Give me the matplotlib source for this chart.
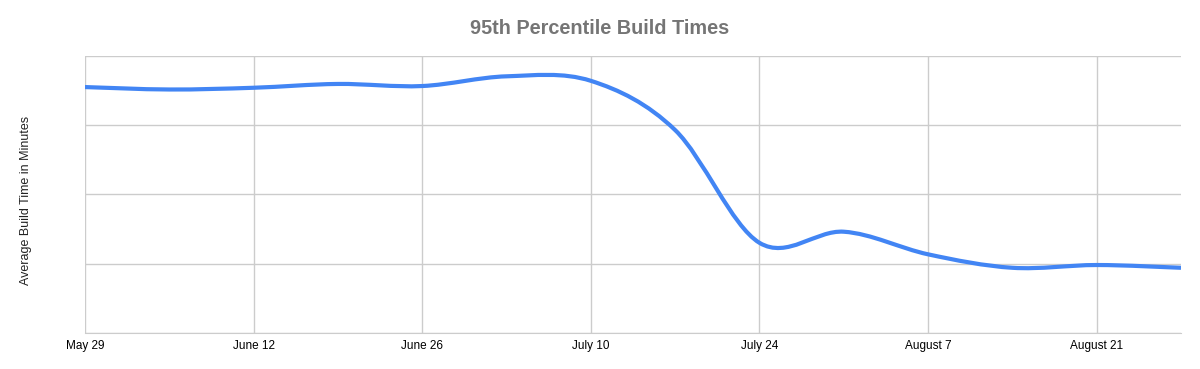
import numpy as np
import matplotlib
matplotlib.use("Agg")
import matplotlib.pyplot as plt
from matplotlib.path import Path
from matplotlib.patches import PathPatch

# weekly samples, days since May 29
days = [0, 7, 14, 21, 28, 35, 42, 49, 56, 63, 70, 77, 84, 91]
build_time = [3.545, 3.51, 3.535, 3.59, 3.56, 3.70, 3.635,
              2.925, 1.30, 1.46, 1.134, 0.94, 0.98, 0.94]

tick_days = [0, 14, 28, 42, 56, 70, 84]
tick_labels = ["May 29", "June 12", "June 26", "July 10", "July 24", "August 7", "August 21"]

plt.rcParams['font.family'] = ['Liberation Sans', 'DejaVu Sans']

fig = plt.figure(figsize=(12, 3.69), dpi=100)
ax = fig.add_axes([85/1200, 36/369, 1096/1200, 277.5/369])

# smooth curve (catmull-rom style bezier segments through the points)
x = np.array(days, dtype=float)
y = np.array(build_time)
verts = [(x[0], y[0])]
codes = [Path.MOVETO]
n = len(x)
for i in range(n - 1):
    p0 = i - 1 if i > 0 else i
    p3 = i + 2 if i + 2 < n else i + 1
    t1 = ((x[i+1] - x[p0]) / 6.0, (y[i+1] - y[p0]) / 6.0)
    t2 = ((x[p3] - x[i]) / 6.0, (y[p3] - y[i]) / 6.0)
    verts += [(x[i] + t1[0], y[i] + t1[1]),
              (x[i+1] - t2[0], y[i+1] - t2[1]),
              (x[i+1], y[i+1])]
    codes += [Path.CURVE4] * 3
patch = PathPatch(Path(verts, codes), facecolor='none', edgecolor='#4285F4',
                  lw=3, capstyle='butt', joinstyle='round', zorder=3)
ax.add_patch(patch)

ax.set_xlim(0, 91)
ax.set_ylim(0, 4)
ax.set_xticks(tick_days)
ax.set_xticklabels(tick_labels, fontsize=8.5)
ax.set_yticks([0, 1, 2, 3, 4])
ax.set_yticklabels([])
ax.tick_params(length=0, pad=5)
ax.grid(True, color='#cccccc', lw=1)
ax.set_axisbelow(True)
for s in ['top', 'right', 'left']:
    ax.spines[s].set_visible(False)
ax.spines['bottom'].set_color('#cccccc')

fig.text(25.5/1200, 1 - 200/369, "Average Build Time in Minutes", rotation=90,
         ha='center', va='center', fontsize=9, color='#222222')
fig.text(0.5, 1 - 28/369, "95th Percentile Build Times", ha='center', va='center',
         fontsize=14.3, fontweight='bold', color='#757575')

fig.savefig("out.png", dpi=100)
